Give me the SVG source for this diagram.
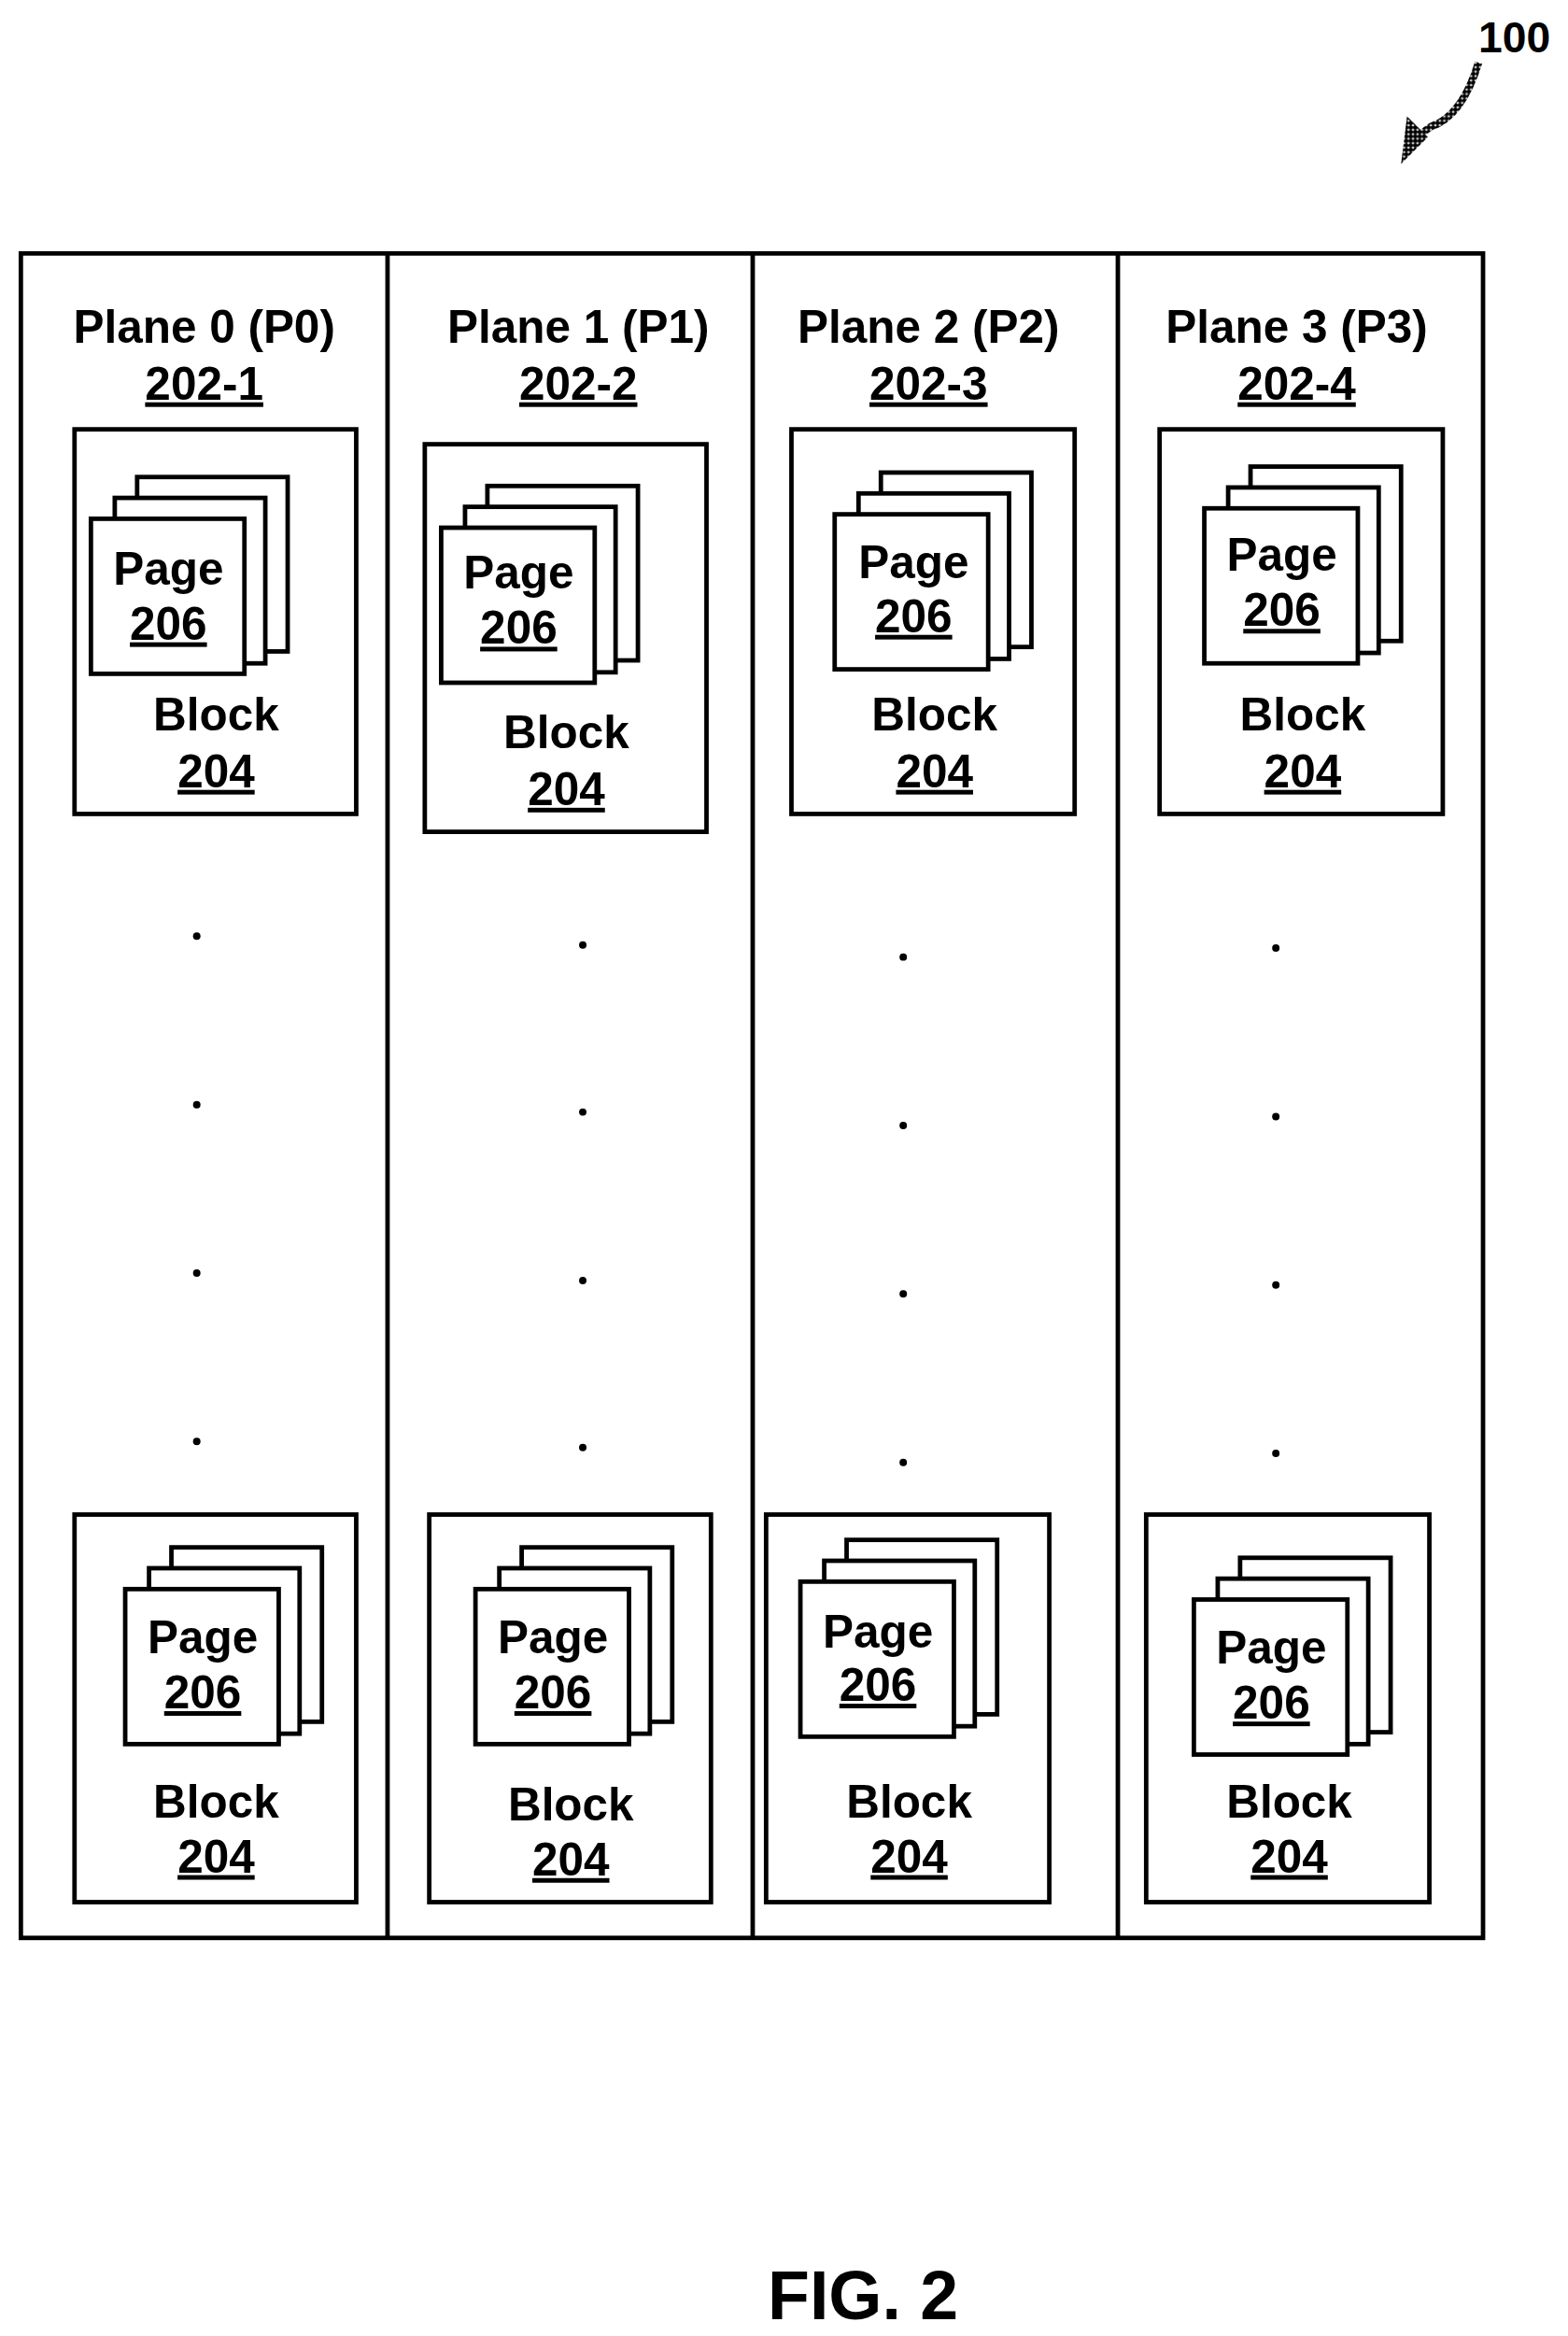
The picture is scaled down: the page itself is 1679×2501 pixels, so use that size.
<svg xmlns="http://www.w3.org/2000/svg" width="1679" height="2501" viewBox="0 0 1679 2501">
<defs>
<style>
.t{font-family:"Liberation Sans",Arial,sans-serif;font-weight:bold;font-size:31px;text-anchor:middle;fill:#000}
.u{text-decoration:underline}
.b{fill:#fff;stroke:#000;stroke-width:3}
.d{fill:#000}
</style>
<pattern id="chk" width="3" height="3" patternUnits="userSpaceOnUse"><rect width="3" height="3" fill="#fff"/><circle cx="1.5" cy="1.5" r="1.5" fill="#000"/></pattern>
<g id="pages"><rect class="b" x="31" y="-28" width="101" height="117"/><rect class="b" x="16" y="-14" width="101" height="111"/><rect class="b" x="0" y="0" width="103" height="104"/></g>
</defs>
<rect width="1679" height="2501" fill="#fff"/>
<g transform="scale(1.596)">
<g id="ref100"><text class="t" x="1016" y="35" style="font-size:29px">100</text>
<path d="M992,42 C985,65 975,80 960,85 C955,88 952,92 948,95" fill="none" stroke="url(#chk)" stroke-width="5"/>
<path d="M940,110 L944,78 L958,92 Z" fill="url(#chk)"/></g>
<g id="frame"><rect class="b" x="14" y="170" width="981" height="1130"/>
<line x1="260" y1="170" x2="260" y2="1300" stroke="#000" stroke-width="3"/>
<line x1="505" y1="170" x2="505" y2="1300" stroke="#000" stroke-width="3"/>
<line x1="750" y1="170" x2="750" y2="1300" stroke="#000" stroke-width="3"/></g>
<g id="p0"><text class="t" x="137" y="230">Plane 0 (P0)</text><text class="t u" x="137" y="268">202-1</text></g>
<g id="p1"><text class="t" x="388" y="230">Plane 1 (P1)</text><text class="t u" x="388" y="268">202-2</text></g>
<g id="p2"><text class="t" x="623" y="230">Plane 2 (P2)</text><text class="t u" x="623" y="268">202-3</text></g>
<g id="p3"><text class="t" x="870" y="230">Plane 3 (P3)</text><text class="t u" x="870" y="268">202-4</text></g>
<g id="b0t"><rect class="b" x="50" y="288" width="189" height="258"/><use href="#pages" x="61" y="348"/><text class="t" x="113" y="392">Page</text><text class="t u" x="113" y="429">206</text><text class="t" x="145" y="490">Block</text><text class="t u" x="145" y="528">204</text></g>
<g id="b1t"><rect class="b" x="285" y="298" width="189" height="260"/><use href="#pages" x="296" y="354"/><text class="t" x="348" y="395">Page</text><text class="t u" x="348" y="432">206</text><text class="t" x="380" y="502">Block</text><text class="t u" x="380" y="540">204</text></g>
<g id="b2t"><rect class="b" x="531" y="288" width="190" height="258"/><use href="#pages" x="560" y="345"/><text class="t" x="613" y="388">Page</text><text class="t u" x="613" y="424">206</text><text class="t" x="627" y="490">Block</text><text class="t u" x="627" y="528">204</text></g>
<g id="b3t"><rect class="b" x="778" y="288" width="190" height="258"/><use href="#pages" x="808" y="341"/><text class="t" x="860" y="383">Page</text><text class="t u" x="860" y="420">206</text><text class="t" x="874" y="490">Block</text><text class="t u" x="874" y="528">204</text></g>
<g id="b0b"><rect class="b" x="50" y="1016" width="189" height="260"/><use href="#pages" x="84" y="1066"/><text class="t" x="136" y="1109">Page</text><text class="t u" x="136" y="1146">206</text><text class="t" x="145" y="1219">Block</text><text class="t u" x="145" y="1256">204</text></g>
<g id="b1b"><rect class="b" x="288" y="1016" width="189" height="260"/><use href="#pages" x="319" y="1066"/><text class="t" x="371" y="1109">Page</text><text class="t u" x="371" y="1146">206</text><text class="t" x="383" y="1221">Block</text><text class="t u" x="383" y="1258">204</text></g>
<g id="b2b"><rect class="b" x="514" y="1016" width="190" height="260"/><use href="#pages" x="537" y="1061"/><text class="t" x="589" y="1105">Page</text><text class="t u" x="589" y="1141">206</text><text class="t" x="610" y="1219">Block</text><text class="t u" x="610" y="1256">204</text></g>
<g id="b3b"><rect class="b" x="769" y="1016" width="190" height="260"/><use href="#pages" x="801" y="1073"/><text class="t" x="853" y="1116">Page</text><text class="t u" x="853" y="1153">206</text><text class="t" x="865" y="1219">Block</text><text class="t u" x="865" y="1256">204</text></g>
<g id="dots">
<circle class="d" cx="132" cy="628" r="2.5"/><circle class="d" cx="132" cy="741" r="2.5"/><circle class="d" cx="132" cy="854" r="2.5"/><circle class="d" cx="132" cy="967" r="2.5"/>
<circle class="d" cx="391" cy="634" r="2.5"/><circle class="d" cx="391" cy="746" r="2.5"/><circle class="d" cx="391" cy="859" r="2.5"/><circle class="d" cx="391" cy="971" r="2.5"/>
<circle class="d" cx="606" cy="642" r="2.5"/><circle class="d" cx="606" cy="755" r="2.5"/><circle class="d" cx="606" cy="868" r="2.5"/><circle class="d" cx="606" cy="981" r="2.5"/>
<circle class="d" cx="856" cy="636" r="2.5"/><circle class="d" cx="856" cy="749" r="2.5"/><circle class="d" cx="856" cy="862" r="2.5"/><circle class="d" cx="856" cy="975" r="2.5"/>
</g>
<text class="t" x="579" y="1556" style="font-size:46px">FIG. 2</text>
</g>
</svg>
